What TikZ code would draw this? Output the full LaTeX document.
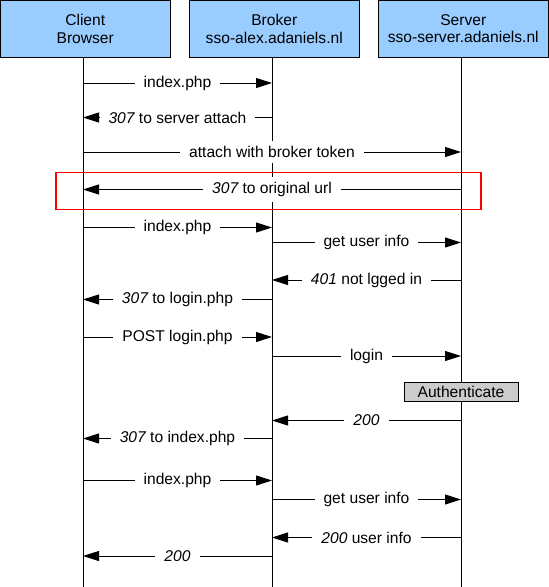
\documentclass[tikz,border=0pt]{standalone}
\usepackage{fontspec}
\setmainfont{Liberation Sans}
\usetikzlibrary{arrows.meta}
\definecolor{headblue}{RGB}{153,204,255}
\definecolor{authgray}{RGB}{204,204,204}

\begin{document}
\begin{tikzpicture}[x=1pt, y=-1pt, every node/.style={font=\fontsize{15.6}{17.5}\selectfont}]
  \tikzstyle{head}=[draw,line width=1pt,fill=headblue,minimum width=169.5pt,minimum height=56.5pt,align=center,inner sep=0pt]
  \tikzstyle{life}=[line width=1pt]
  \tikzstyle{msg}=[line width=1pt,-{Triangle[length=16pt,width=10pt]}]
  \tikzstyle{lbl}=[fill=white,inner xsep=9pt,inner ysep=5pt]
  \tikzstyle{auth}=[draw,line width=1pt,fill=authgray,minimum width=114pt,minimum height=19pt,inner sep=0pt]
  \tikzstyle{hilite}=[draw=red,line width=1.5pt]
  \useasboundingbox (0,0) rectangle (549,587);
  % participants
  \node[head] (client) at (85.25,28.75) {Client\\Browser};
  \node[head] (broker) at (274.25,28.75) {Broker\\sso-alex.adaniels.nl};
  \node[head] (server) at (463.25,28.75) {Server\\sso-server.adaniels.nl};
  \coordinate (cl) at (83,57);
  \coordinate (br) at (272,57);
  \coordinate (sv) at (461,57);
  \coordinate (bot) at (0,587);
  \draw[life] (cl) -- (cl |- bot);
  \draw[life] (br) -- (br |- bot);
  \draw[life] (sv) -- (sv |- bot);
  % messages
  \foreach \yy/\src/\dst/\lbltext [count=\i] in {
      83/cl/br/{index.php},
      117.5/br/cl/{{\itshape 307} to server attach},
      152/cl/sv/{attach with broker token},
      189.5/sv/cl/{{\itshape 307} to original url},
      227.5/cl/br/{index.php},
      242.5/br/sv/{get user info},
      280/sv/br/{{\itshape 401} not lgged in},
      299.5/br/cl/{{\itshape 307} to login.php},
      337/cl/br/{POST login.php},
      356/br/sv/{login},
      420.5/sv/br/{\itshape 200},
      438.5/br/cl/{{\itshape 307} to index.php},
      480.5/cl/br/{index.php},
      499.5/br/sv/{get user info},
      537.5/sv/br/{{\itshape 200} user info},
      556/br/cl/{\itshape 200}}{
    \coordinate (m\i) at (0,\yy);
    \draw[msg] (\src |- m\i) -- node[lbl] {\lbltext} (\dst |- m\i);
  }
  \node[auth] (authn) at (461,391.5) {Authenticate};
  % highlight
  \draw[hilite] (56,172.5) rectangle (481,209.5);
\end{tikzpicture}
\end{document}
